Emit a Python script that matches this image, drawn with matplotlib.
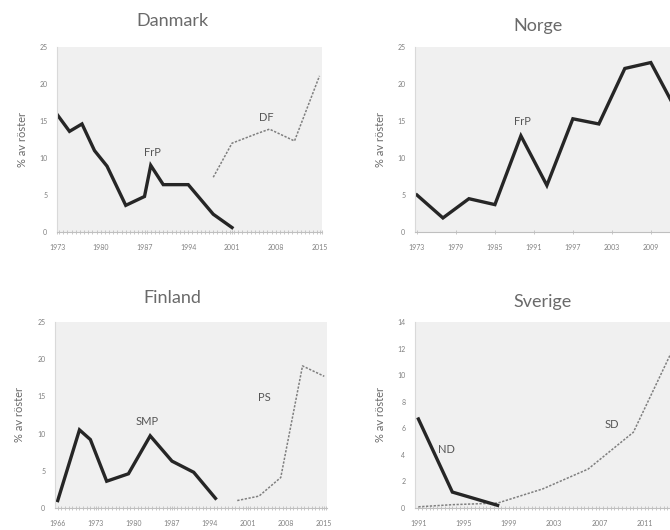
"""Stöd för populistiska högerpartier i Norden, fyra små diagram."""
import matplotlib

matplotlib.use("Agg")

import matplotlib.pyplot as plt
from matplotlib.ticker import MultipleLocator

plt.rcParams["font.family"] = ["Lato", "DejaVu Sans"]

FARG = {
    "ink": "#262626",
    "text": "#6a6a6a",
    "tick": "#808080",
    "dotted": "#7f7f7f",
    "bg": "#f0f0f0",
    "axis": "#bfbfbf",
    "yaxis": "#d9d9d9",
}

# --- data -------------------------------------------------------------------
dk_frp_ar = [1973, 1975, 1977, 1979, 1981, 1984, 1987, 1988, 1990, 1994, 1998, 2001]
dk_frp = [15.9, 13.6, 14.6, 11.0, 8.9, 3.6, 4.8, 9.0, 6.4, 6.4, 2.4, 0.6]
dk_df_ar = [1998, 2001, 2005, 2007, 2011, 2015]
dk_df = [7.4, 12.0, 13.3, 13.9, 12.3, 21.1]
dk_ticks = [1973, 1980, 1987, 1994, 2001, 2008, 2015]

no_frp_ar = [1973, 1977, 1981, 1985, 1989, 1993, 1997, 2001, 2005, 2009, 2013]
no_frp = [5.0, 1.9, 4.5, 3.7, 13.0, 6.3, 15.3, 14.6, 22.1, 22.9, 16.3]
no_ticks = [1973, 1979, 1985, 1991, 1997, 2003, 2009]

fi_smp_ar = [1966, 1970, 1972, 1975, 1979, 1983, 1987, 1991, 1995]
fi_smp = [1.0, 10.5, 9.2, 3.6, 4.6, 9.7, 6.3, 4.8, 1.3]
fi_ps_ar = [1999, 2003, 2007, 2011, 2015]
fi_ps = [1.0, 1.6, 4.1, 19.1, 17.7]
fi_ticks = [1966, 1973, 1980, 1987, 1994, 2001, 2008, 2015]

se_nd_ar = [1991, 1994, 1998]
se_nd = [6.7, 1.2, 0.2]
se_sd_ar = [1991, 1994, 1998, 2002, 2006, 2010, 2014]
se_sd = [0.09, 0.25, 0.37, 1.44, 2.93, 5.7, 12.86]
se_ticks = [1991, 1995, 1999, 2003, 2007, 2011]

fig = plt.figure(figsize=(6.7, 5.3), dpi=100)
W, H = 670, 530


def _ax(left, top, right, bottom):
    # position i pixlar -> figurandelar
    return fig.add_axes([left / W, 1 - bottom / H, (right - left) / W, (bottom - top) / H])


def _setup(ax, xlim, ylim, ystep, xticks, minor=None):
    ax.set_facecolor(FARG["bg"])
    ax.set_xlim(*xlim)
    ax.set_ylim(*ylim)
    ax.spines["top"].set_visible(False)
    ax.spines["right"].set_visible(False)
    ax.spines["left"].set_color(FARG["yaxis"])
    ax.spines["bottom"].set_color(FARG["axis"])
    ax.spines["left"].set_linewidth(0.8)
    ax.spines["bottom"].set_linewidth(0.8)
    ax.yaxis.set_major_locator(MultipleLocator(ystep))
    ax.set_xticks(xticks)
    if minor:
        ax.xaxis.set_minor_locator(MultipleLocator(minor))
    ax.tick_params(axis="both", which="both", labelsize=5, colors=FARG["axis"],
                   labelcolor=FARG["tick"], length=2, width=0.6)
    ax.tick_params(axis="x", which="both", direction="inout", length=3, pad=7)
    ax.tick_params(axis="y", length=0, pad=7)
    ax.set_ylabel("% av röster", fontsize=8, color=FARG["text"])
    ax.yaxis.set_label_coords(-0.11, 0.5)


def _titel(x, y, s):
    fig.text(x / W, 1 - y / H, s, ha="center", va="center", fontsize=13, color=FARG["text"])


def _huvud(ax, x, y):
    ax.plot(x, y, color=FARG["ink"], linewidth=2.4, solid_joinstyle="miter")


def _prick(ax, x, y):
    ax.plot(x, y, color=FARG["dotted"], linewidth=1.1, linestyle=(0, (1.5, 1)))


def _etikett(ax, x, y, s):
    ax.text(x, y, s, ha="center", va="center", fontsize=8, color="#555555")


# Danmark
ax = _ax(57, 47, 322, 232)
_setup(ax, (1973, 2015.4), (0, 25), 5, dk_ticks, minor=2 / 3)
_huvud(ax, dk_frp_ar, dk_frp)
_prick(ax, dk_df_ar, dk_df)
_etikett(ax, 1988.2, 10.8, "FrP")
_etikett(ax, 2006.5, 15.5, "DF")
_titel(172, 21, "Danmark")

# Norge (högra kanten skärs av)
ax = _ax(415, 47, 682, 232)
_setup(ax, (1972.7, 2013.8), (0, 25), 5, no_ticks)
_huvud(ax, no_frp_ar, no_frp)
_etikett(ax, 1989.2, 14.9, "FrP")
_titel(538, 26, "Norge")

# Finland
ax = _ax(55, 322, 327, 508)
_setup(ax, (1965.5, 2015.5), (0, 25), 5, fi_ticks, minor=2 / 3)
_huvud(ax, fi_smp_ar, fi_smp)
_prick(ax, fi_ps_ar, fi_ps)
_etikett(ax, 1982.4, 11.6, "SMP")
_etikett(ax, 2004, 14.9, "PS")
_titel(172, 298, "Finland")

# Sverige (högra kanten skärs av)
ax = _ax(415, 322, 682, 508)
_setup(ax, (1990.7, 2014.3), (0, 14), 2, se_ticks, minor=1 / 3)
_prick(ax, se_sd_ar, se_sd)
_huvud(ax, se_nd_ar, se_nd)
_etikett(ax, 1993.5, 4.4, "ND")
_etikett(ax, 2008.1, 6.3, "SD")
_titel(543, 302, "Sverige")

fig.savefig("out.png", dpi=100, facecolor="white")
